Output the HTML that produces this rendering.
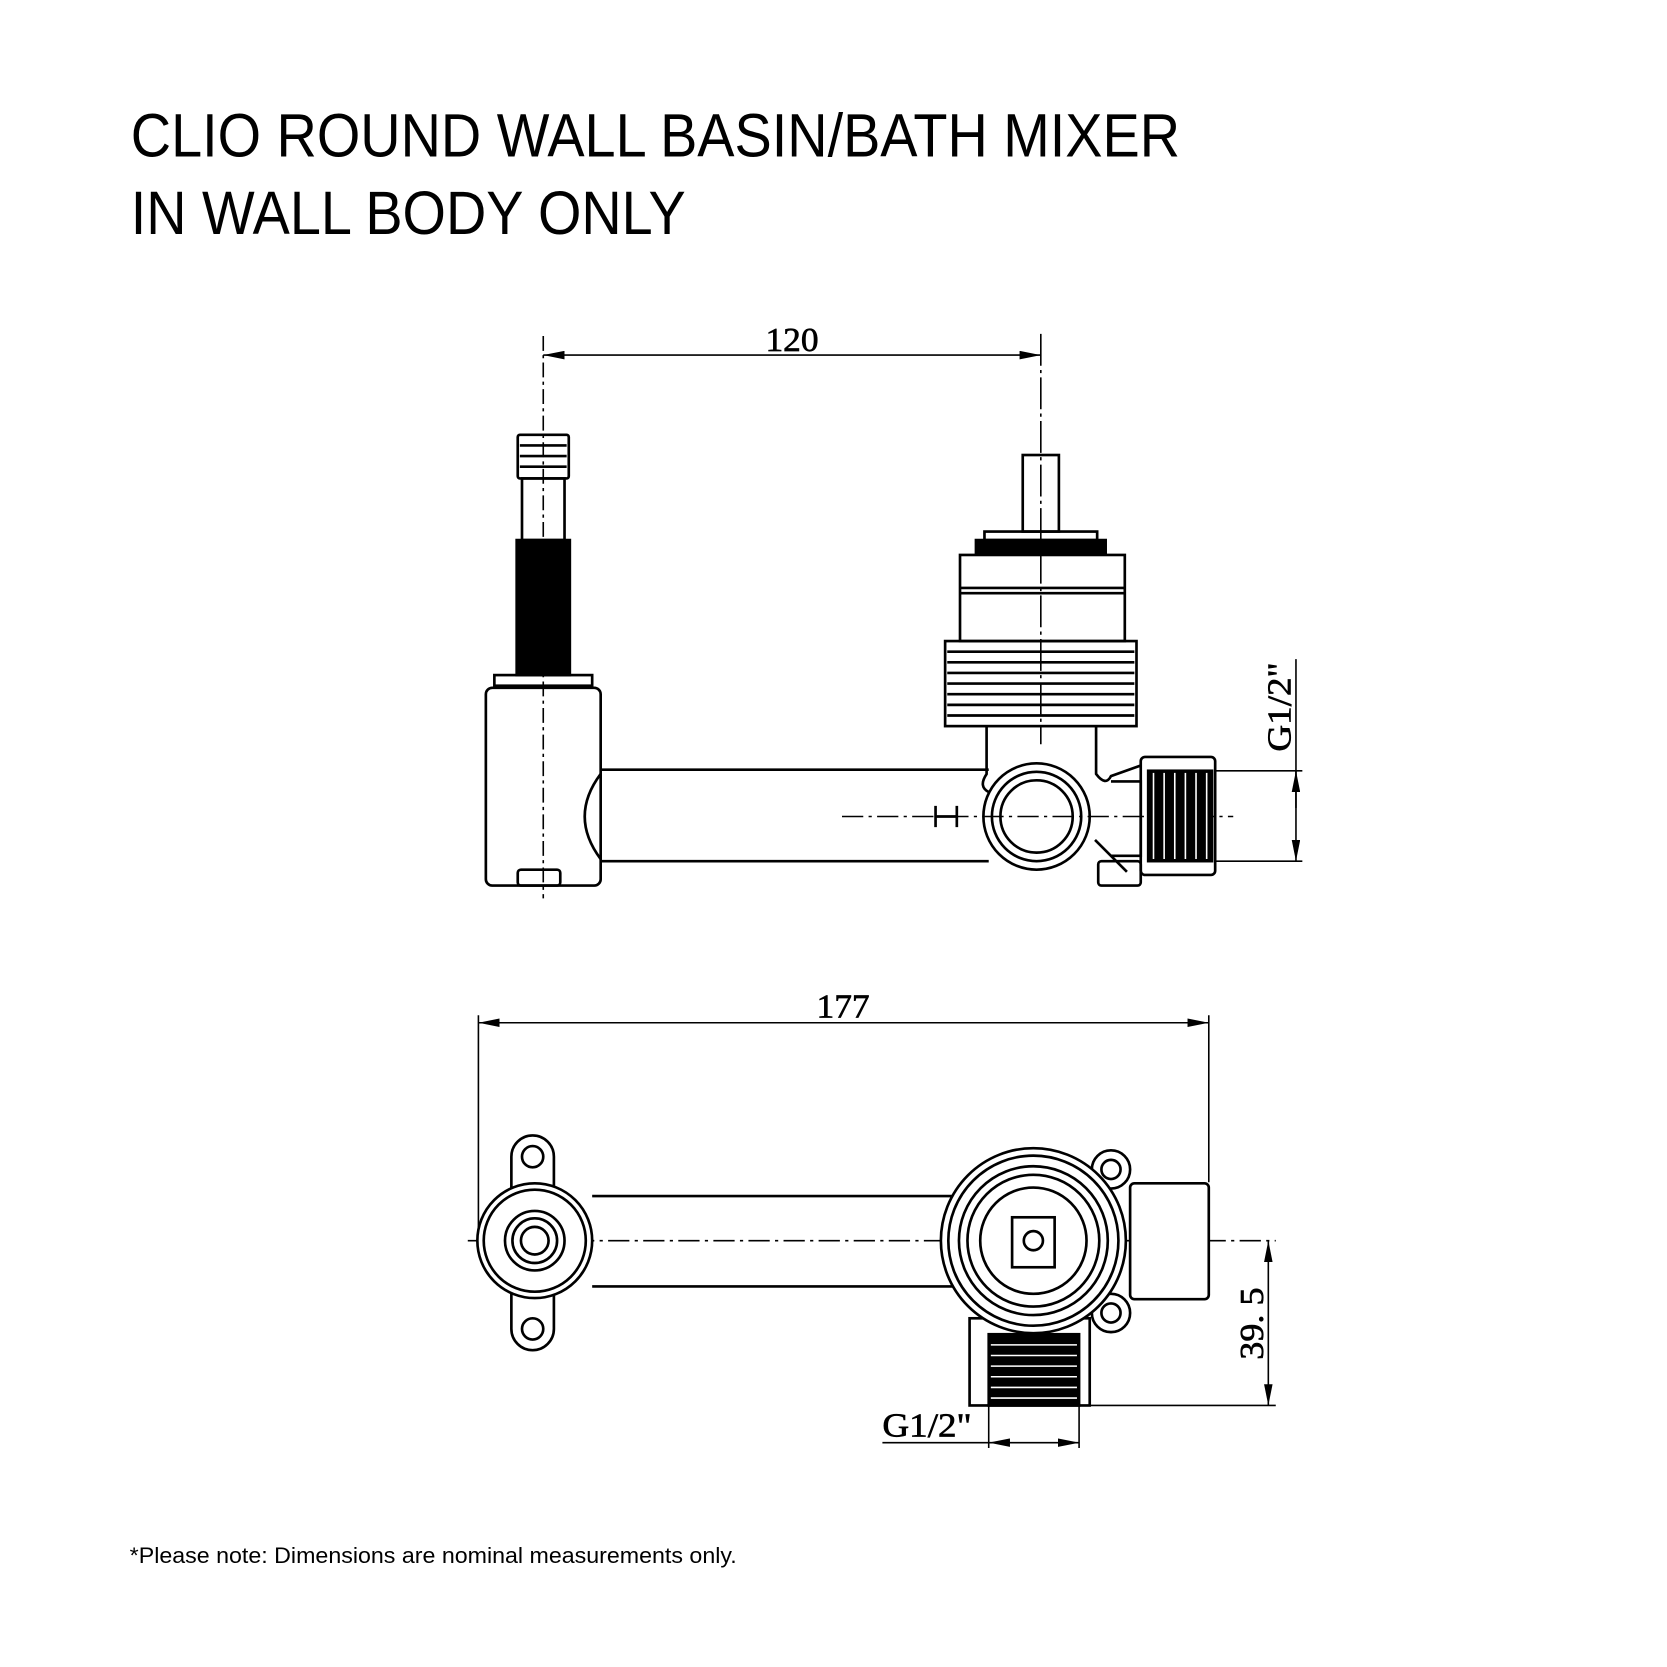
<!DOCTYPE html>
<html><head><meta charset="utf-8"><style>
html,body{margin:0;padding:0;background:#fff}
svg{display:block}
</style></head><body>
<svg width="1667" height="1667" viewBox="0 0 1568 1568" xmlns="http://www.w3.org/2000/svg">
<defs>
<marker id="ar" viewBox="0 0 20 8" refX="20" refY="4" markerWidth="20" markerHeight="8" markerUnits="userSpaceOnUse" orient="auto-start-reverse"><path d="M0,0 L20,4 L0,8 Z" fill="#000"/></marker>
</defs>
<rect width="1568" height="1568" fill="#fff"/>
<g font-family="'Liberation Sans',sans-serif" fill="#000">
<text x="123" y="147" font-size="58" textLength="987" lengthAdjust="spacingAndGlyphs">CLIO ROUND WALL BASIN/BATH MIXER</text>
<text x="123" y="220" font-size="58" textLength="522" lengthAdjust="spacingAndGlyphs">IN WALL BODY ONLY</text>
</g>
<text x="122" y="1470" font-family="'Liberation Sans',sans-serif" font-size="21" textLength="571" lengthAdjust="spacingAndGlyphs">*Please note: Dimensions are nominal measurements only.</text>

<g font-family="'Liberation Serif',serif" font-size="32" fill="#000" stroke="#000" stroke-width="0.6">
<text x="745" y="330" text-anchor="middle" textLength="50" lengthAdjust="spacingAndGlyphs">120</text>
<text x="793" y="957" text-anchor="middle" textLength="50" lengthAdjust="spacingAndGlyphs">177</text>
<text x="872" y="1351" text-anchor="middle" textLength="84" lengthAdjust="spacingAndGlyphs">G1/2"</text>
<text transform="translate(1214,665) rotate(-90)" text-anchor="middle" textLength="84" lengthAdjust="spacingAndGlyphs">G1/2"</text>
<text transform="translate(1188,1245) rotate(-90)" text-anchor="middle" textLength="68" lengthAdjust="spacingAndGlyphs">39. 5</text>
</g>

<g stroke="#000" fill="none" stroke-width="1.5">
<line x1="511" y1="334" x2="979" y2="334" marker-start="url(#ar)" marker-end="url(#ar)"/>
<line x1="511" y1="316" x2="511" y2="845" stroke-dasharray="14,4,3,4"/>
<line x1="979" y1="314" x2="979" y2="700" stroke-dasharray="30,4,3,4"/>
<line x1="1219" y1="620" x2="1219" y2="810" marker-end="url(#ar)"/>
<line x1="1219" y1="725" x2="1219" y2="760" marker-start="url(#ar)"/>
<line x1="1143" y1="725" x2="1225" y2="725"/>
<line x1="1143" y1="810" x2="1225" y2="810"/>
<line x1="792" y1="768" x2="1160" y2="768" stroke-dasharray="20,5,3,5"/>
<g stroke-width="2.5">
<rect x="487" y="409" width="48" height="41" rx="2"/>
<line x1="489" y1="419" x2="533" y2="419"/><line x1="489" y1="429" x2="533" y2="429"/><line x1="489" y1="439" x2="533" y2="439"/>
<rect x="491" y="450" width="40" height="58"/>
<rect x="486" y="508" width="50" height="127" fill="#000"/>
<rect x="465" y="635" width="92" height="10"/>
<rect x="457" y="647" width="108" height="186" rx="6"/>
<rect x="487" y="818" width="40" height="15" rx="3"/>
<path d="M565,724 L930,724 M565,810 L930,810 M565,728 Q535,768 565,808"/>
<rect x="962" y="428" width="34" height="72"/>
<rect x="926" y="500" width="106" height="8"/>
<rect x="918" y="508" width="122" height="12" fill="#000"/>
<rect x="903" y="522" width="155" height="81"/>
<line x1="903" y1="553" x2="1058" y2="553"/><line x1="903" y1="558" x2="1058" y2="558"/>
<rect x="889" y="603" width="180" height="80"/>
<line x1="891" y1="613" x2="1067" y2="613"/><line x1="891" y1="623" x2="1067" y2="623"/><line x1="891" y1="633" x2="1067" y2="633"/><line x1="891" y1="643" x2="1067" y2="643"/><line x1="891" y1="653" x2="1067" y2="653"/><line x1="891" y1="663" x2="1067" y2="663"/><line x1="891" y1="673" x2="1067" y2="673"/>
<path d="M928,683 L928,728 Q920,740 930,745 M1031,683 L1031,728 Q1040,740 1045,730 L1073,720"/>
<circle cx="975" cy="768" r="50"/>
<circle cx="975" cy="768" r="42"/>
<circle cx="975" cy="768" r="34"/>
<path d="M1045,735 L1073,735 L1073,805 L1045,805 M1030,790 L1060,820"/>
<rect x="1073" y="712" width="70" height="111" rx="4"/>
<rect x="1080" y="725" width="60" height="85" fill="#000"/>
<rect x="1033" y="810" width="40" height="23" rx="3"/>
<path d="M880,758 L880,778 M900,758 L900,778 M880,768 L900,768"/>
</g>

<line x1="450" y1="962" x2="1137" y2="962" marker-start="url(#ar)" marker-end="url(#ar)"/>
<line x1="450" y1="955" x2="450" y2="1168"/>
<line x1="1137" y1="955" x2="1137" y2="1112"/>
<line x1="440" y1="1167" x2="1200" y2="1167" stroke-dasharray="20,5,3,5"/>
<line x1="1193" y1="1167" x2="1193" y2="1322" marker-start="url(#ar)" marker-end="url(#ar)"/>
<line x1="1025" y1="1322" x2="1200" y2="1322"/>
<line x1="830" y1="1357" x2="930" y2="1357"/>
<line x1="930" y1="1357" x2="1015" y2="1357" marker-start="url(#ar)" marker-end="url(#ar)"/>
<line x1="930" y1="1322" x2="930" y2="1362"/>
<line x1="1015" y1="1322" x2="1015" y2="1362"/>

<g stroke-width="2.5">
<rect x="481" y="1068" width="40" height="202" rx="20" fill="#fff"/>
<circle cx="501" cy="1088" r="10"/><circle cx="501" cy="1250" r="10"/>
<circle cx="503" cy="1167" r="54" fill="#fff"/>
<circle cx="503" cy="1167" r="48"/>
<circle cx="503" cy="1167" r="28"/><circle cx="503" cy="1167" r="21"/><circle cx="503" cy="1167" r="13"/>
<path d="M557,1125 L900,1125 M557,1210 L900,1210"/>
<circle cx="1045" cy="1100" r="18" fill="#fff"/><circle cx="1045" cy="1100" r="9"/>
<circle cx="1045" cy="1235" r="18" fill="#fff"/><circle cx="1045" cy="1235" r="9"/>
<rect x="1063" y="1113" width="74" height="109" rx="4" fill="#fff"/>
<rect x="912" y="1240" width="113" height="82" fill="#fff"/>
<rect x="930" y="1255" width="85" height="67" fill="#000"/>
<circle cx="972" cy="1167" r="87" fill="#fff"/>
<circle cx="972" cy="1167" r="80"/>
<circle cx="972" cy="1167" r="70"/>
<circle cx="972" cy="1167" r="62"/>
<circle cx="972" cy="1167" r="50"/>
<rect x="952" y="1145" width="40" height="47"/>
<circle cx="972" cy="1167" r="9"/>
</g>
</g>
<g stroke="#fff" stroke-width="1.5">
<line x1="932" y1="1265" x2="1013" y2="1265"/><line x1="932" y1="1275" x2="1013" y2="1275"/><line x1="932" y1="1285" x2="1013" y2="1285"/><line x1="932" y1="1295" x2="1013" y2="1295"/><line x1="932" y1="1305" x2="1013" y2="1305"/><line x1="932" y1="1315" x2="1013" y2="1315"/>
<line x1="1085" y1="727" x2="1085" y2="808"/><line x1="1095" y1="727" x2="1095" y2="808"/><line x1="1105" y1="727" x2="1105" y2="808"/><line x1="1115" y1="727" x2="1115" y2="808"/><line x1="1125" y1="727" x2="1125" y2="808"/><line x1="1135" y1="727" x2="1135" y2="808"/>
</g>
</svg>
</body></html>
